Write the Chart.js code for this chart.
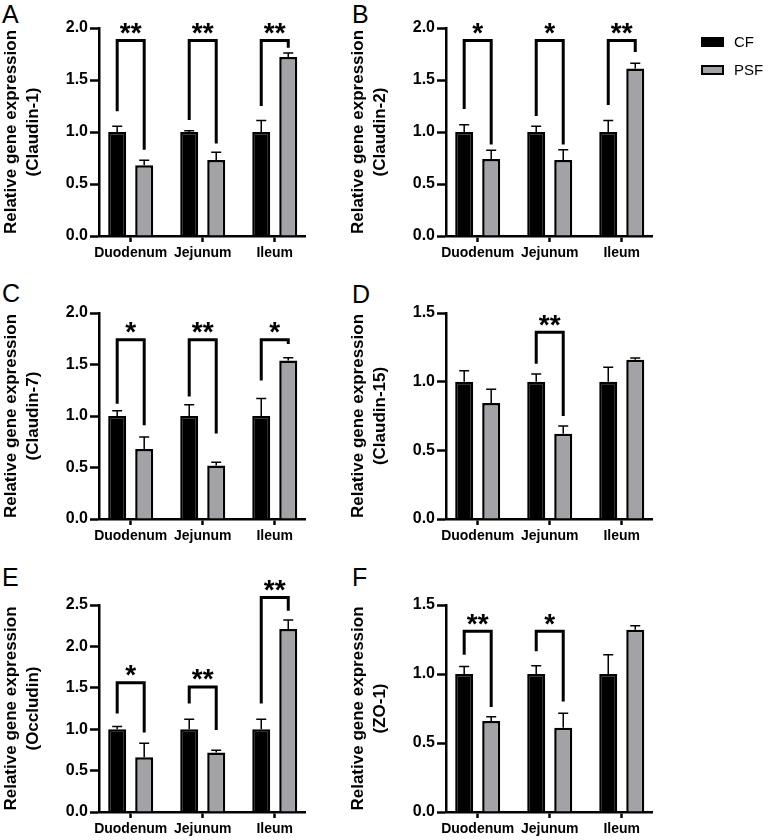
<!DOCTYPE html>
<html>
<head>
<meta charset="utf-8">
<script src="https://cdn.jsdelivr.net/npm/chart.js@4.4.0/dist/chart.umd.min.js"></script>
<style>
html,body{margin:0;padding:0;background:#fff;}
body{width:768px;height:840px;position:relative;overflow:hidden;font-family:"Liberation Sans",Arial,sans-serif;}
canvas{position:absolute;}
.letter{position:absolute;font-size:25px;line-height:1;color:#000;font-family:"Liberation Sans",Arial,sans-serif;}
</style>
</head>
<body>
<div class="letter" style="left:2px;top:2px">A</div>
<div class="letter" style="left:352px;top:2px">B</div>
<div class="letter" style="left:2px;top:281px">C</div>
<div class="letter" style="left:352px;top:282px">D</div>
<div class="letter" style="left:2px;top:565px">E</div>
<div class="letter" style="left:352px;top:565px">F</div>
<canvas id="cA" width="384" height="270" style="left:0;top:0"></canvas>
<canvas id="cB" width="421" height="270" style="left:347px;top:0"></canvas>
<canvas id="cC" width="384" height="280" style="left:0;top:273px"></canvas>
<canvas id="cD" width="421" height="280" style="left:347px;top:273px"></canvas>
<canvas id="cE" width="384" height="281" style="left:0;top:565px"></canvas>
<canvas id="cF" width="421" height="281" style="left:347px;top:565px"></canvas>
<script>
// ---------- data ----------
const CATEGORIES = ['Duodenum', 'Jejunum', 'Ileum'];
const SERIES = ['CF', 'PSF'];
const Y_TITLE = 'Relative gene expression';
const GENES = ['(Claudin-1)', '(Claudin-2)', '(Claudin-7)', '(Claudin-15)', '(Occludin)', '(ZO-1)'];
const Y_MAX = [2.0, 2.0, 2.0, 1.5, 2.5, 1.5];

const A_CF = [1.00, 1.00, 1.00];   const A_CF_ERR = [0.055, 0.012, 0.11];
const A_PSF = [0.68, 0.73, 1.72];  const A_PSF_ERR = [0.048, 0.075, 0.04];
const B_CF = [1.00, 1.00, 1.00];   const B_CF_ERR = [0.07, 0.055, 0.11];
const B_PSF = [0.74, 0.73, 1.61];  const B_PSF_ERR = [0.085, 0.10, 0.05];
const C_CF = [1.00, 1.00, 1.00];   const C_CF_ERR = [0.05, 0.11, 0.17];
const C_PSF = [0.68, 0.52, 1.54];  const C_PSF_ERR = [0.115, 0.03, 0.025];
const D_CF = [1.00, 1.00, 1.00];   const D_CF_ERR = [0.08, 0.055, 0.105];
const D_PSF = [0.845, 0.62, 1.16]; const D_PSF_ERR = [0.10, 0.058, 0.012];
const E_CF = [1.00, 1.00, 1.00];   const E_CF_ERR = [0.033, 0.12, 0.12];
const E_PSF = [0.66, 0.72, 2.21];  const E_PSF_ERR = [0.17, 0.025, 0.11];
const F_CF = [1.00, 1.00, 1.00];   const F_CF_ERR = [0.055, 0.06, 0.14];
const F_PSF = [0.66, 0.61, 1.32];  const F_PSF_ERR = [0.03, 0.105, 0.03];

// significance brackets: [category index, label, bracket top, left leg end, right leg end] (data units)
const A_SIG = [[0, '**', 1.88, 1.20, 0.83], [1, '**', 1.88, 1.115, 0.89], [2, '**', 1.88, 1.25, 1.81]];
const B_SIG = [[0, '*', 1.88, 1.22, 0.88], [1, '*', 1.88, 1.155, 0.88], [2, '**', 1.88, 1.26, 1.77]];
const C_SIG = [[0, '*', 1.74, 1.12, 0.91], [1, '**', 1.74, 1.19, 0.83], [2, '*', 1.74, 1.345, 1.70]];
const D_SIG = [[1, '**', 1.36, 1.13, 0.75]];
const E_SIG = [[0, '*', 1.56, 1.19, 0.96], [1, '**', 1.51, 1.31, 0.99], [2, '**', 2.59, 1.31, 2.43]];
const F_SIG = [[0, '**', 1.31, 1.14, 0.76], [1, '*', 1.31, 1.165, 0.80]];

// ---------- styling ----------
const FONT = '"Liberation Sans", Arial, sans-serif';
const COLORS = ['#000000', '#a2a2a7'];

const annotPlugin = {
  id: 'annot',
  afterDatasetsDraw(chart) {
    const o = chart.options.plugins.annot;
    const ctx = chart.ctx;
    const ys = chart.scales.y;
    ctx.save();
    ctx.strokeStyle = '#000';
    // error bars (upper only)
    o.errors.forEach((errs, d) => {
      const meta = chart.getDatasetMeta(d);
      const vals = chart.data.datasets[d].data;
      meta.data.forEach((el, j) => {
        const v = vals[j].y;
        const yTop = ys.getPixelForValue(v + errs[j]);
        ctx.lineWidth = 1.5;
        ctx.beginPath();
        ctx.moveTo(el.x, el.y);
        ctx.lineTo(el.x, yTop);
        ctx.moveTo(el.x - 5, yTop);
        ctx.lineTo(el.x + 5, yTop);
        ctx.stroke();
      });
    });
    // brackets
    const m0 = chart.getDatasetMeta(0), m1 = chart.getDatasetMeta(1);
    o.brackets.forEach(([c, label, top, l, r]) => {
      const xL = m0.data[c].x, xR = m1.data[c].x;
      const yT = ys.getPixelForValue(top);
      ctx.lineWidth = 3;
      ctx.lineJoin = 'miter';
      ctx.lineCap = 'butt';
      ctx.beginPath();
      ctx.moveTo(xL, ys.getPixelForValue(l));
      ctx.lineTo(xL, yT);
      ctx.lineTo(xR, yT);
      ctx.lineTo(xR, ys.getPixelForValue(r));
      ctx.stroke();
      ctx.fillStyle = '#000';
      ctx.font = 'bold 28px ' + FONT;
      ctx.textAlign = 'center';
      ctx.textBaseline = 'alphabetic';
      ctx.fillText(label, (xL + xR) / 2, yT + 1.5);
    });
    ctx.restore();
  },
  afterDraw(chart) {
    const o = chart.options.plugins.annot;
    if (!o.legend) return;
    const ctx = chart.ctx;
    ctx.save();
    chart.data.datasets.forEach((ds, i) => {
      const x = o.legend.x, y = o.legend.y + i * o.legend.step;
      ctx.fillStyle = ds.backgroundColor;
      ctx.fillRect(x, y, 23, 10);
      ctx.strokeStyle = '#000';
      ctx.lineWidth = 2;
      ctx.strokeRect(x + 1, y + 1, 21, 8);
      ctx.fillStyle = '#000';
      ctx.font = '15px ' + FONT;
      ctx.textAlign = 'left';
      ctx.textBaseline = 'middle';
      ctx.fillText(ds.label, x + 33, y + 5.5);
    });
    ctx.restore();
  }
};

function makeChart(id, gi, cf, cfErr, psf, psfErr, sig, padTop, padRight, legend) {
  const toPts = arr => arr.map((v, i) => ({ x: i, y: v }));
  return new Chart(document.getElementById(id), {
    type: 'bar',
    data: {
      datasets: [
        { label: SERIES[0], data: toPts(cf), backgroundColor: COLORS[0], borderColor: '#000', borderWidth: 2.5 },
        { label: SERIES[1], data: toPts(psf), backgroundColor: COLORS[1], borderColor: '#000', borderWidth: 2.5 }
      ]
    },
    options: {
      responsive: false,
      devicePixelRatio: 1,
      animation: false,
      categoryPercentage: 0.75,
      barPercentage: 0.667,
      layout: { padding: { top: padTop, right: padRight, left: 0, bottom: 0 } },
      plugins: {
        legend: { display: false },
        tooltip: { enabled: false },
        annot: { errors: [cfErr, psfErr], brackets: sig, legend: legend }
      },
      scales: {
        x: {
          type: 'linear',
          min: -0.44,
          max: 2.42,
          offset: false,
          afterBuildTicks(scale) { scale.ticks = CATEGORIES.map((c, i) => ({ value: i })); },
          afterFit(scale) { scale.height = 34; },
          grid: { drawOnChartArea: false, drawTicks: true, tickLength: 6, tickWidth: 2.5, tickColor: '#000', offset: false },
          border: { color: '#000', width: 2.5 },
          ticks: {
            autoSkip: false, maxRotation: 0, padding: 3, color: '#000',
            font: { family: FONT, size: 14, weight: 'bold' },
            callback: v => CATEGORIES[v]
          }
        },
        y: {
          min: 0,
          max: Y_MAX[gi],
          afterFit(scale) { scale.width = 99; },
          grid: { drawOnChartArea: false, drawTicks: true, tickLength: 9, tickWidth: 2.5, tickColor: '#000' },
          border: { color: '#000', width: 2.5 },
          ticks: {
            stepSize: 0.5, padding: 2, color: '#000',
            font: { family: FONT, size: 16, weight: 'bold' },
            callback: v => Number(v).toFixed(1)
          },
          title: {
            display: true,
            text: [Y_TITLE, GENES[gi]],
            color: '#000',
            padding: 0,
            font: { family: FONT, size: 17, weight: 'bold', lineHeight: 1.294 }
          }
        }
      }
    },
    plugins: [annotPlugin]
  });
}

makeChart('cA', 0, A_CF, A_CF_ERR, A_PSF, A_PSF_ERR, A_SIG, 28, 79, null);
makeChart('cB', 1, B_CF, B_CF_ERR, B_PSF, B_PSF_ERR, B_SIG, 28, 116, { x: 354, y: 37, step: 28 });
makeChart('cC', 2, C_CF, C_CF_ERR, C_PSF, C_PSF_ERR, C_SIG, 40, 79, null);
makeChart('cD', 3, D_CF, D_CF_ERR, D_PSF, D_PSF_ERR, D_SIG, 40, 116, null);
makeChart('cE', 4, E_CF, E_CF_ERR, E_PSF, E_PSF_ERR, E_SIG, 40, 79, null);
makeChart('cF', 5, F_CF, F_CF_ERR, F_PSF, F_PSF_ERR, F_SIG, 40, 116, null);
</script>
</body>
</html>
